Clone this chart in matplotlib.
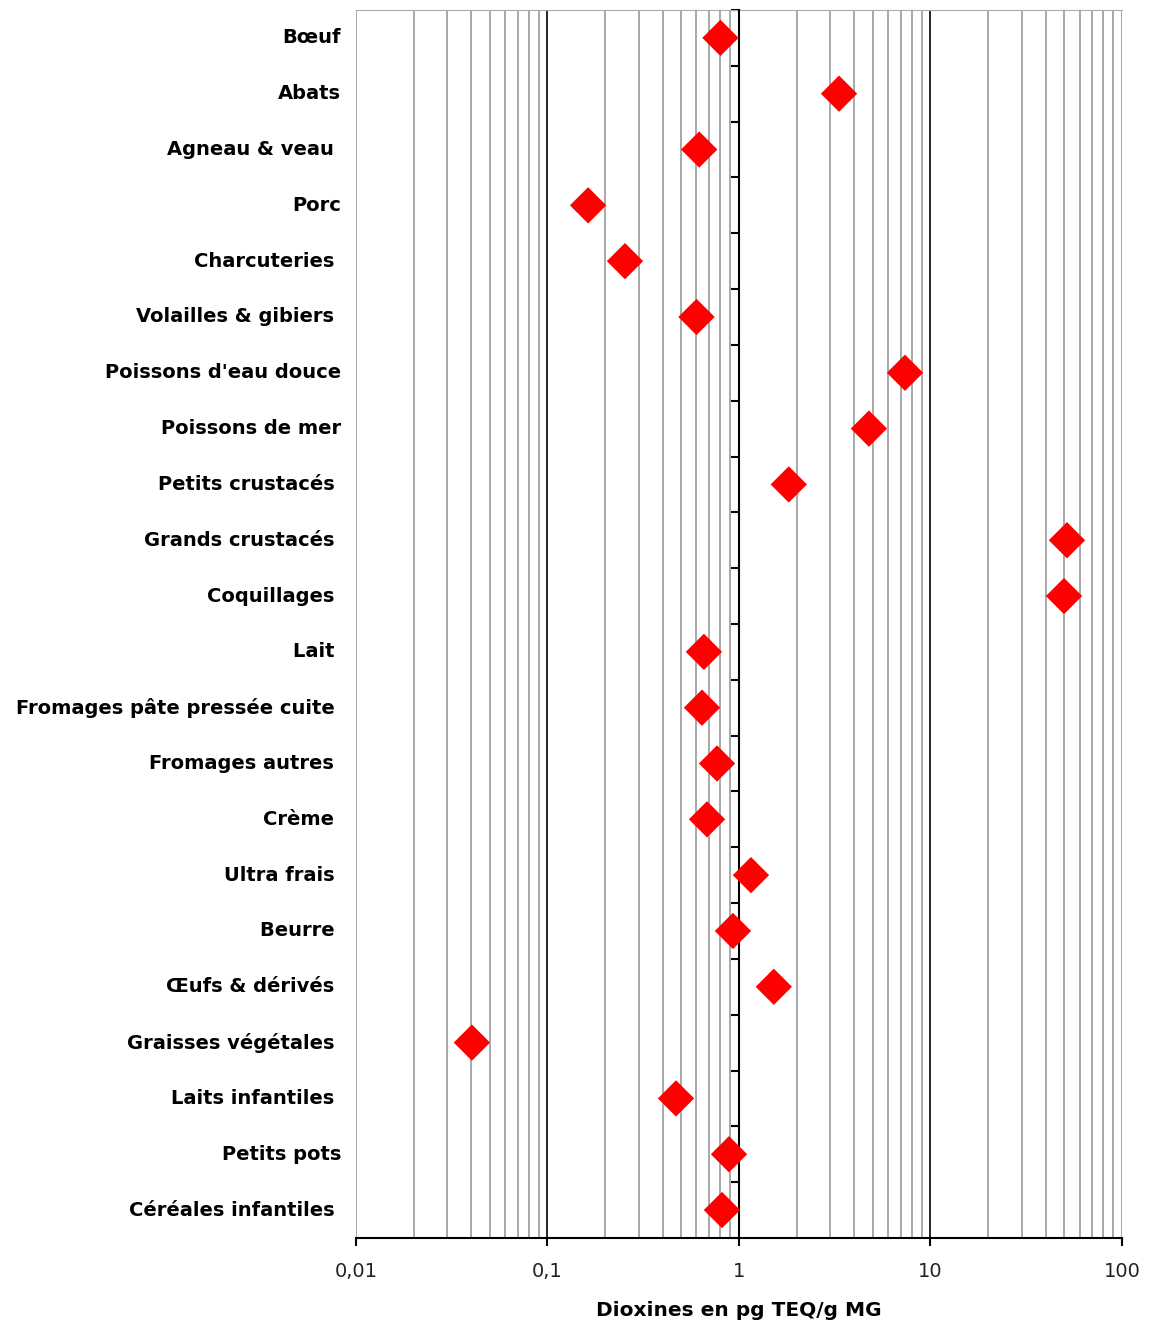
import numpy as np
import matplotlib.pyplot as plt
from matplotlib.ticker import FixedLocator, NullFormatter, FuncFormatter
import matplotlib.transforms as mtransforms

# categories, top to bottom
categories = [
    "Bœuf", "Abats", "Agneau & veau ", "Porc", "Charcuteries ",
    "Volailles & gibiers ", "Poissons d'eau douce", "Poissons de mer",
    "Petits crustacés ", "Grands crustacés ", "Coquillages ", "Lait ",
    "Fromages pâte pressée cuite ", "Fromages autres ", "Crème ",
    "Ultra frais ", "Beurre ", "Œufs & dérivés ", "Graisses végétales ",
    "Laits infantiles ", "Petits pots", "Céréales infantiles ",
]

# dioxines, pg TEQ/g MG
values = [
    0.80, 3.33, 0.62, 0.163, 0.254, 0.60, 7.36, 4.77, 1.82, 51.6, 49.8,
    0.656, 0.641, 0.768, 0.681, 1.155, 0.93, 1.52, 0.0403, 0.469, 0.887,
    0.815,
]

xticks = [0.01, 0.1, 1, 10, 100]
xticklabels = ["0,01", "0,1", "1", "10", "100"]

plt.rcParams['font.family'] = ['DejaVu Sans']

fig = plt.figure(figsize=(11.49, 13.3), dpi=100)
ax = fig.add_axes([0.3098, 0.0692, 0.6667, 0.9233])

n = len(categories)
ypos = np.arange(n)[::-1] + 0.5

ax.set_xscale('log')
ax.set_xlim(0.01, 100)
ax.set_ylim(0, n)

# grid lines
minors = [m * 10.0 ** e for e in range(-2, 2) for m in range(2, 10)]
for xv in minors:
    ax.axvline(xv, color='#999999', lw=1.2, zorder=1)
for xv in [0.1, 10]:
    ax.axvline(xv, color='black', lw=1.2, zorder=1)
ax.axvline(0.01, color='#999999', lw=1.2, zorder=1)
ax.axvline(100, color='#999999', lw=1.2, zorder=1)

ax.scatter(values, ypos, marker='D', s=18.5 ** 2, color='#ff0000',
           edgecolors='none', zorder=5, clip_on=False)

# spines
ax.spines['top'].set_color('#aaaaaa')
ax.spines['right'].set_visible(False)
ax.spines['left'].set_position(('data', 1))
ax.spines['left'].set_linewidth(1.5)
ax.spines['left'].set_zorder(3)
ax.spines['bottom'].set_linewidth(1.5)

ax.xaxis.set_major_locator(FixedLocator(xticks))
ax.xaxis.set_major_formatter(FuncFormatter(lambda v, p: xticklabels[xticks.index(v)] if v in xticks else ""))
ax.xaxis.set_minor_locator(FixedLocator([]))
ax.tick_params(axis='x', direction='out', length=6, width=1.5, labelsize=14, pad=11, labelcolor='#222222')

ax.yaxis.set_major_locator(FixedLocator(np.arange(0, n + 1)))
ax.yaxis.set_major_formatter(NullFormatter())
ax.tick_params(axis='y', direction='out', length=6, width=1.5)

trans = mtransforms.blended_transform_factory(fig.transFigure, ax.transData)
for lab, y in zip(categories, ypos):
    ax.text(341 / 1149, y, lab, transform=trans, ha='right', va='center',
            fontsize=14, fontweight='bold')

ax.set_xlabel("Dioxines en pg TEQ/g MG", fontsize=14.5, fontweight='bold', labelpad=15)

fig.savefig("out.png", dpi=100)
